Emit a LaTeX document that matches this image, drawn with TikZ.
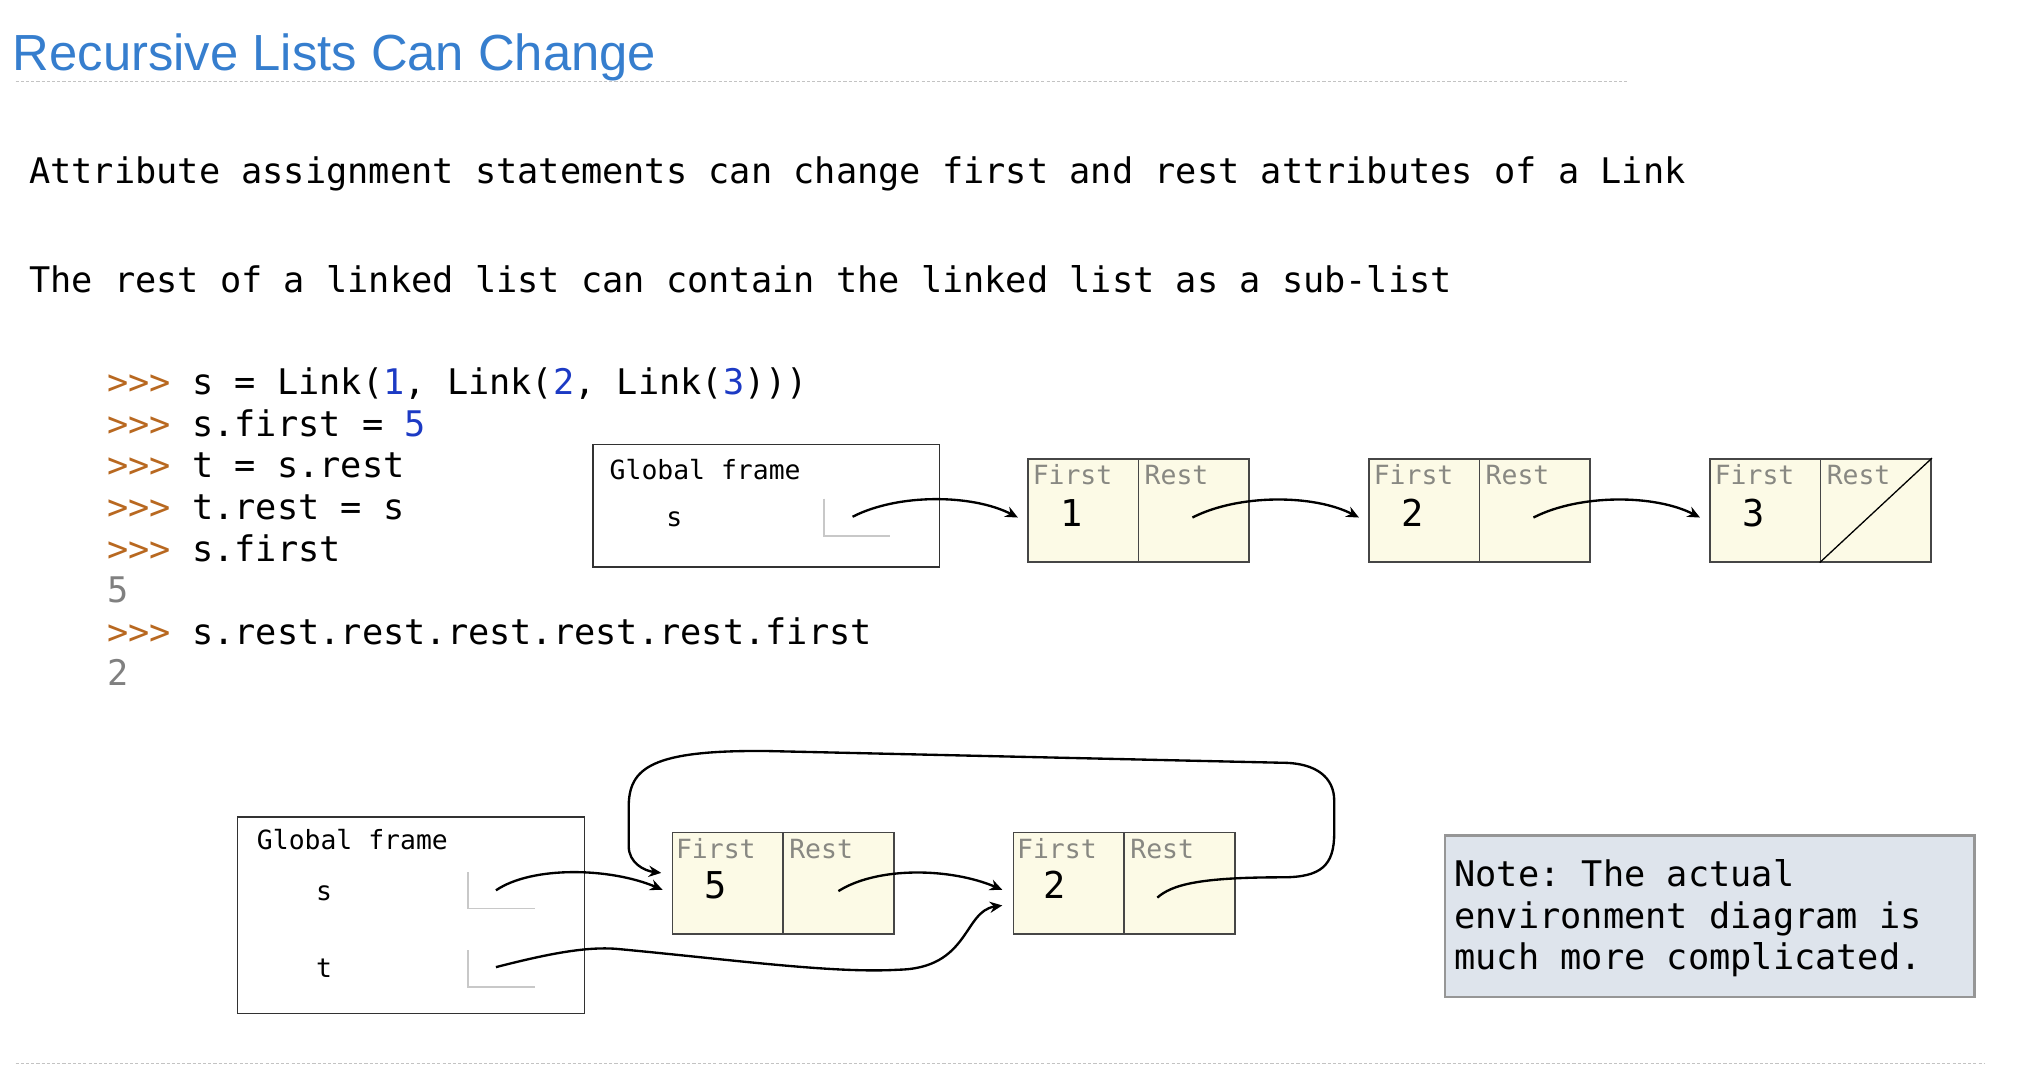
\documentclass[tikz,border=0pt]{standalone}
\usepackage{fontspec}
\setmainfont{Liberation Sans}
\newfontfamily\mono{DejaVu Sans Mono}
\usetikzlibrary{arrows.meta,calc}
\definecolor{titleblue}{RGB}{54,126,206}
\definecolor{promptc}{RGB}{184,104,32}
\definecolor{numblue}{RGB}{28,58,196}
\definecolor{outgray}{RGB}{128,128,128}
\definecolor{labgray}{RGB}{136,136,130}
\definecolor{cellfill}{RGB}{252,250,230}
\definecolor{cellline}{RGB}{70,70,70}
\definecolor{framec}{RGB}{50,50,50}
\definecolor{ptrgray}{RGB}{200,200,200}
\definecolor{dotgray}{RGB}{195,195,195}
\definecolor{notefill}{RGB}{222,228,236}
\definecolor{noteline}{RGB}{150,150,150}
\newcommand\prm[1]{\textcolor{promptc}{#1}}
\newcommand\nmb[1]{\textcolor{numblue}{#1}}
\begin{document}
\frenchspacing
\begin{tikzpicture}[x=0.5pt,y=-0.5pt,
  titletxt/.style={inner sep=0, anchor=base west, text=titleblue, font=\fontsize{19.5}{23}\selectfont},
  bodytxt/.style={inner sep=0, anchor=base west, font=\mono\fontsize{13.55}{16}\selectfont},
  smalltxt/.style={inner sep=0, font=\mono\fontsize{10.15}{12}\selectfont},
  labtxt/.style={smalltxt, anchor=base west, text=labgray},
  numtxt/.style={inner sep=0, anchor=base, font=\mono\fontsize{14.2}{16}\selectfont},
  framebox/.style={draw=framec, line width=0.6pt, fill=white, anchor=north west, inner sep=0, minimum width=133pt},
  cell/.style={draw=cellline, fill=cellfill, line width=0.6pt, anchor=north west, inner sep=0, minimum width=42.5pt},
  ptr/.style={draw=ptrgray, line width=0.7pt},
  arr/.style={line width=0.9pt, -{Stealth[length=4.8pt,width=4.3pt]}},
  dotline/.style={draw=dotgray, line width=0.5pt, dash pattern=on 1.2pt off 0.8pt}
]
\useasboundingbox (0,0) rectangle (1568,822);

% title and rules
\node[titletxt] (title) at (9.5,54) {Recursive Lists Can Change};
\draw[dotline] (12,62.5) -- (1250,62.5);
\draw[dotline] (12,817) -- (1525,817);

% sentences
\node[bodytxt] (l1) at (22,141) {Attribute assignment statements can change first and rest attributes of a Link};
\node[bodytxt] (l2) at (22,225) {The rest of a linked list can contain the linked list as a sub-list};

% code
\node[bodytxt] (c1) at (82,303) {\prm{>>>} s = Link(\nmb{1}, Link(\nmb{2}, Link(\nmb{3})))};
\node[bodytxt] (c2) at (82,335) {\prm{>>>} s.first = \nmb{5}};
\node[bodytxt] (c3) at (82,367) {\prm{>>>} t = s.rest};
\node[bodytxt] (c4) at (82,399) {\prm{>>>} t.rest = s};
\node[bodytxt] (c5) at (82,431) {\prm{>>>} s.first};
\node[bodytxt, text=outgray] (c6) at (82,463) {5};
\node[bodytxt] (c7) at (82,495) {\prm{>>>} s.rest.rest.rest.rest.rest.first};
\node[bodytxt, text=outgray] (c8) at (82,527) {2};

% ---------- top diagram ----------
\node[framebox, minimum height=47pt] (fr1) at (455,341) {};
\node[smalltxt, anchor=base west] (g1) at (468,368) {Global frame};
\node[smalltxt, anchor=base] (v1) at (518,404.5) {s};
\draw[ptr] (633,383) |- (684,412);

\node[cell, minimum height=39.5pt] (f1) at (789,352) {};
\node[cell, minimum height=39.5pt] (r1) at (874,352) {};
\node[cell, minimum height=39.5pt] (f2) at (1051,352) {};
\node[cell, minimum height=39.5pt] (r2) at (1136,352) {};
\node[cell, minimum height=39.5pt] (f3) at (1313,352) {};
\node[cell, minimum height=39.5pt] (r3) at (1398,352) {};
\draw[line width=0.5pt] (r3.south west) -- (r3.north east);

\foreach \c/\n in {f1/1,f2/2,f3/3}{
  \node[labtxt] at ($(\c.north west)+(4,20.5)$) {First};
  \node[numtxt] at ($(\c.north west)+(34,52.5)$) {\n};
}
\foreach \c in {r1,r2,r3}{
  \node[labtxt] at ($(\c.north west)+(5,20.5)$) {Rest};
}

\coordinate (ps1) at (655,397);
\coordinate (pr1) at ($(r1.center)+(-1,5.5)$);
\coordinate (pr2) at ($(r2.center)+(-1,5.5)$);
\coordinate (e1) at ($(f1.west)+(-7,5.5)$);
\coordinate (e2) at ($(f2.west)+(-7,5.5)$);
\coordinate (e3) at ($(f3.west)+(-7,5.5)$);
\draw[arr] (ps1) .. controls +(35,-18) and +(-35,-18) .. (e1);
\draw[arr] (pr1) .. controls +(35,-18) and +(-35,-18) .. (e2);
\draw[arr] (pr2) .. controls +(35,-18) and +(-35,-18) .. (e3);

% ---------- bottom diagram ----------
\node[framebox, minimum width=133.25pt, minimum height=75.5pt] (fr2) at (182,627) {};
\node[smalltxt, anchor=base west] (g2) at (197,653) {Global frame};
\node[smalltxt, anchor=base] (vs) at (249,692) {s};
\node[smalltxt, anchor=base] (vt) at (249,751) {t};
\draw[ptr] (359.5,670) |- (411,698);
\draw[ptr] (359.5,730) |- (411,758);

\node[cell, minimum height=39pt] (f5) at (516,639) {};
\node[cell, minimum height=39pt] (r5) at (601,639) {};
\node[cell, minimum height=39pt] (f6) at (778,639) {};
\node[cell, minimum height=39pt] (r6) at (863,639) {};
\node[labtxt] at ($(f5.north west)+(3,20.5)$) {First};
\node[labtxt] at ($(r5.north west)+(5,20.5)$) {Rest};
\node[labtxt] at ($(f6.north west)+(3,20.5)$) {First};
\node[labtxt] at ($(r6.north west)+(5,20.5)$) {Rest};
\node[numtxt] at ($(f5.north west)+(34,51)$) {5};
\node[numtxt] at ($(f6.north west)+(32,51)$) {2};

\coordinate (ss) at (381,684);
\coordinate (ts) at (381,743);
\coordinate (rs5) at ($(r5.center)+(0,6)$);
\coordinate (rs6) at ($(r6.center)+(-17,11)$);
\coordinate (e5a) at ($(f5.west)+(-7,5)$);
\coordinate (e5b) at ($(f5.west)+(-8,-8)$);
\coordinate (e6a) at ($(f6.west)+(-8,5)$);
\coordinate (e6b) at ($(f6.west)+(-8,17)$);

\draw[arr] (ss) .. controls +(28,-19) and +(-40,-17) .. (e5a);
\draw[arr] (rs5) .. controls +(30,-19) and +(-40,-17) .. (e6a);
\draw[arr] (ts) .. controls (420,733) and (450,727) .. (474,729)
  .. controls (560,737) and (640,748) .. (690,745)
  .. controls (745,744) and (740,700) .. (e6b);
\draw[arr] (rs6) .. controls (900,680) and (920,674) .. (985,674)
  .. controls (1015,674) and (1025,665) .. (1025,640) -- (1025,615)
  .. controls (1025,598) and (1012,586) .. (985,586) -- (590,577)
  .. controls (500,576) and (483,590) .. (483,620) -- (483,650)
  .. controls (483,663) and (495,669) .. (e5b);

% note
\node[draw=noteline, fill=notefill, line width=1pt, anchor=north west, inner sep=0,
  minimum width=203.5pt, minimum height=62pt] (note) at (1109,641) {};
\node[bodytxt] (n1) at (1117,681) {Note: The actual};
\node[bodytxt] (n2) at (1117,713) {environment diagram is};
\node[bodytxt] (n3) at (1117,745) {much more complicated.};
\end{tikzpicture}
\end{document}
